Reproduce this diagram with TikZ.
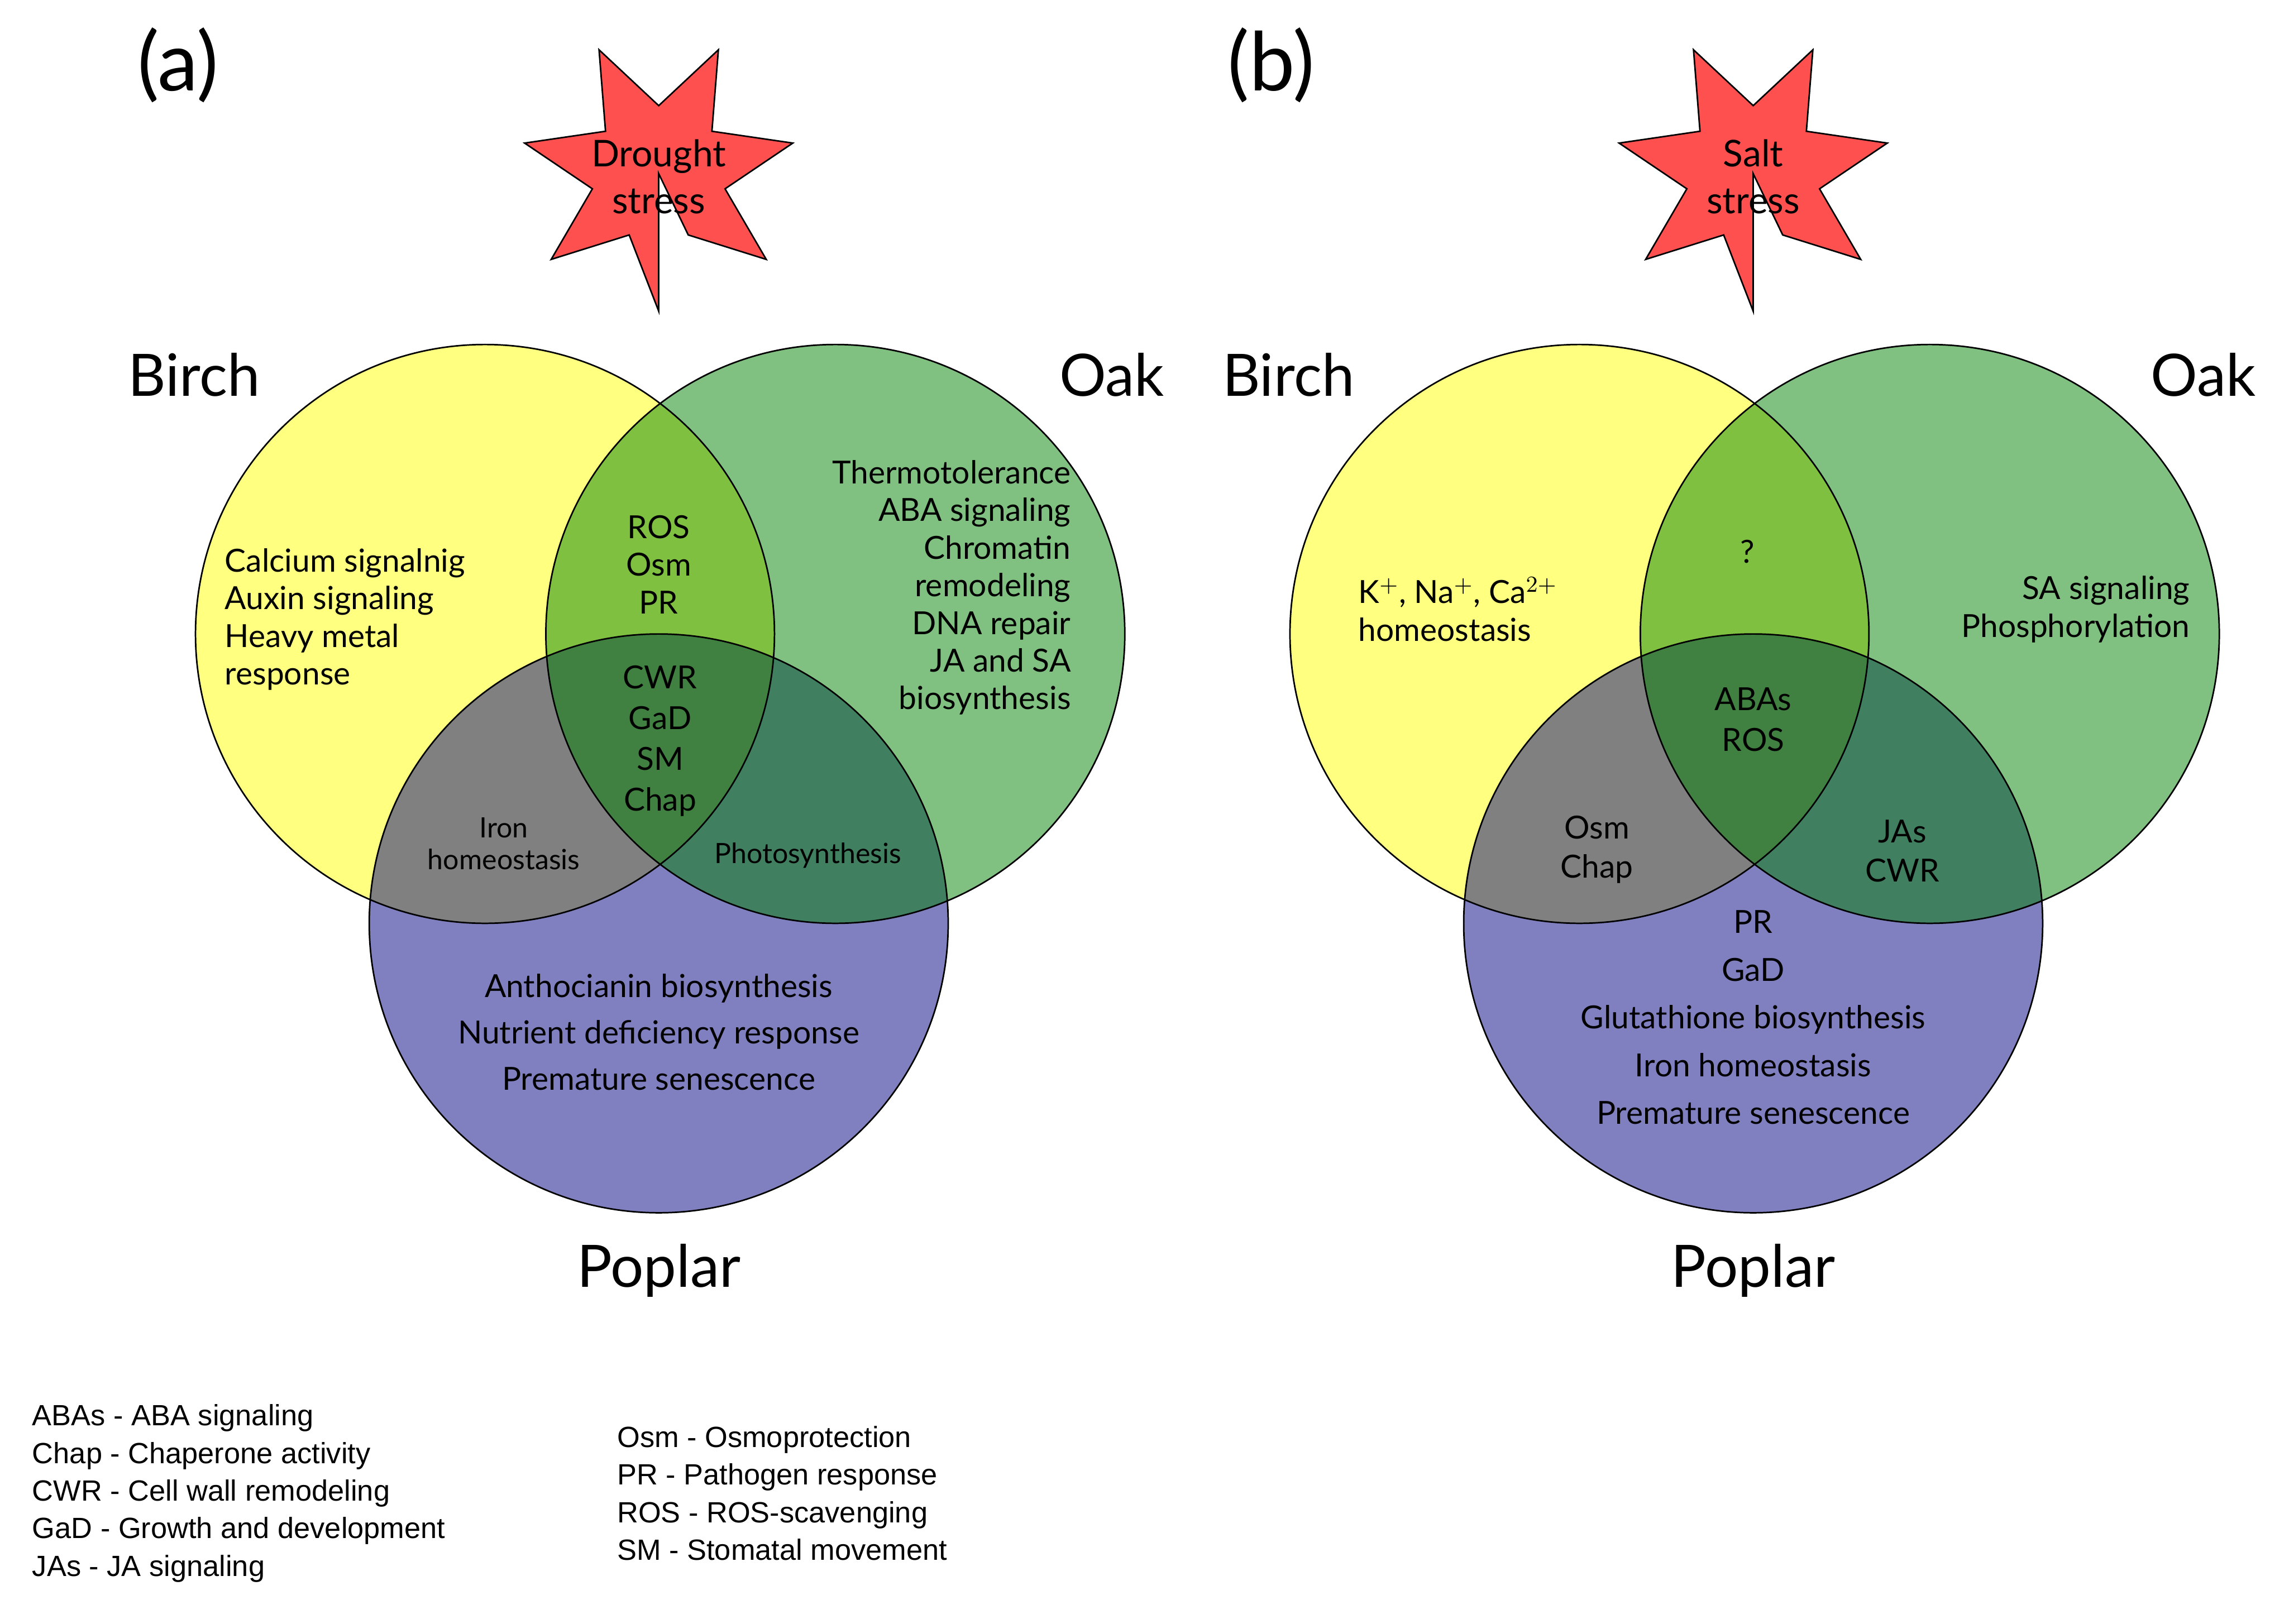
\documentclass[tikz,border=0pt]{standalone}
\usepackage{fontspec}
\setmainfont{Lato}
\newfontfamily\legfont{Liberation Sans}
\definecolor{cy}{RGB}{255,255,128}
\definecolor{cg}{RGB}{128,192,128}
\definecolor{cb}{RGB}{128,128,192}
\definecolor{cyg}{RGB}{128,192,64}
\definecolor{cyb}{RGB}{128,128,128}
\definecolor{cgb}{RGB}{64,128,96}
\definecolor{cygb}{RGB}{64,128,64}
\definecolor{cstar}{RGB}{255,80,80}
\begin{document}
\begin{tikzpicture}[x=0.02cm,y=-0.02cm,
  body/.style={inner sep=0pt,font=\fontsize{12.5}{14.8}\selectfont,align=center},
  small/.style={inner sep=0pt,font=\fontsize{11}{12.5}\selectfont,align=center},
  big/.style={inner sep=0pt,font=\fontsize{23}{26}\selectfont},
  panel/.style={inner sep=0pt,font=\fontsize{32}{36}\selectfont},
  leg/.style={inner sep=0pt,font=\legfont\fontsize{11.5}{14.8}\selectfont,align=left,anchor=north west}]
\useasboundingbox (0,0) rectangle (1568,1122);
\newcommand\venn[3]{%
 \begin{scope}[shift={(#1,0)}]
 \coordinate (B#3) at (335,438); \coordinate (O#3) at (577,438); \coordinate (P#3) at (455,638);
 \fill[cy] (B#3) circle (4cm);
 \fill[cg] (O#3) circle (4cm);
 \fill[cb] (P#3) circle (4cm);
 \begin{scope}\clip (B#3) circle (4cm); \fill[cyg] (O#3) circle (4cm); \fill[cyb] (P#3) circle (4cm);\end{scope}
 \begin{scope}\clip (O#3) circle (4cm); \fill[cgb] (P#3) circle (4cm);\end{scope}
 \begin{scope}\clip (B#3) circle (4cm); \clip (O#3) circle (4cm); \fill[cygb] (P#3) circle (4cm);\end{scope}
 \draw[line width=0.6pt] (B#3) circle (4cm) (O#3) circle (4cm) (P#3) circle (4cm);
 \fill[cstar,draw=black,line width=0.6pt] (455,120) \foreach \i in {0,...,6}{ -- ({455+95*cos(90+\i*360/7)},{120+95*sin(90+\i*360/7)}) -- ({455+47*cos(90+(\i+0.5)*360/7)},{120+47*sin(90+(\i+0.5)*360/7)})} -- cycle;
 \node[body,font=\fontsize{14.5}{18.5}\selectfont] (star#3) at (455,122) {#2};
 \end{scope}}
\venn{0}{Drought\\stress}{a}
\venn{756}{Salt\\stress}{b}
\node[panel] (pa) at (123,45) {(a)};
\node[panel] (pb) at (878,45) {(b)};
\node[big] (l1) at (134,259) {Birch};
\node[big] (l2) at (768,259) {Oak};
\node[big] (l3) at (455,878) {Poplar};
\node[big] (l4) at (890,259) {Birch};
\node[big] (l5) at (1522,259) {Oak};
\node[big] (l6) at (1211,878) {Poplar};
% (a)
\node[body,align=left,anchor=west] (a1) at (155,428) {Calcium signalnig\\Auxin signaling\\Heavy metal\\response};
\node[body,align=right,anchor=east] (a2) at (740,406) {Thermotolerance\\ABA signaling\\Chromatin\\remodeling\\DNA repair\\JA and SA\\biosynthesis};
\node[body] (a3) at (455,390) {ROS\\Osm\\PR};
\node[body,font=\fontsize{12.5}{16}\selectfont] (a4) at (456,512) {CWR\\GaD\\SM\\Chap};
\node[small] (a5) at (348,583) {Iron\\homeostasis};
\node[small] (a6) at (558,591) {Photosynthesis};
\node[body,font=\fontsize{12.5}{18.2}\selectfont] (a7) at (455,713) {Anthocianin biosynthesis\\Nutrient deficiency response\\Premature senescence};
% (b)
\node[body,align=left,anchor=west] (b1) at (938,421) {K$^{+}$, Na$^{+}$, Ca$^{2+}$\\homeostasis};
\node[body] (b2) at (1207,381) {?};
\node[body,align=right,anchor=east] (b3) at (1513,421) {SA signaling\\Phosphorylation};
\node[body,font=\fontsize{12.5}{16}\selectfont] (b4) at (1211,497) {ABAs\\ROS};
\node[body,font=\fontsize{12.5}{15.5}\selectfont] (b5) at (1103,587) {Osm\\Chap};
\node[body,font=\fontsize{12.5}{15.5}\selectfont] (b6) at (1314,588) {JAs\\CWR};
\node[body,font=\fontsize{12.5}{18.8}\selectfont] (b7) at (1211,703) {PR\\GaD\\Glutathione biosynthesis\\Iron homeostasis\\Premature senescence};
% legend
\node[leg] (g1) at (22,970) {ABAs - ABA signaling\\Chap - Chaperone activity\\CWR - Cell wall remodeling\\GaD - Growth and development\\JAs - JA signaling};
\node[leg] (g2) at (426,985) {Osm - Osmoprotection\\PR - Pathogen response\\ROS - ROS-scavenging\\SM - Stomatal movement};
\end{tikzpicture}
\end{document}
